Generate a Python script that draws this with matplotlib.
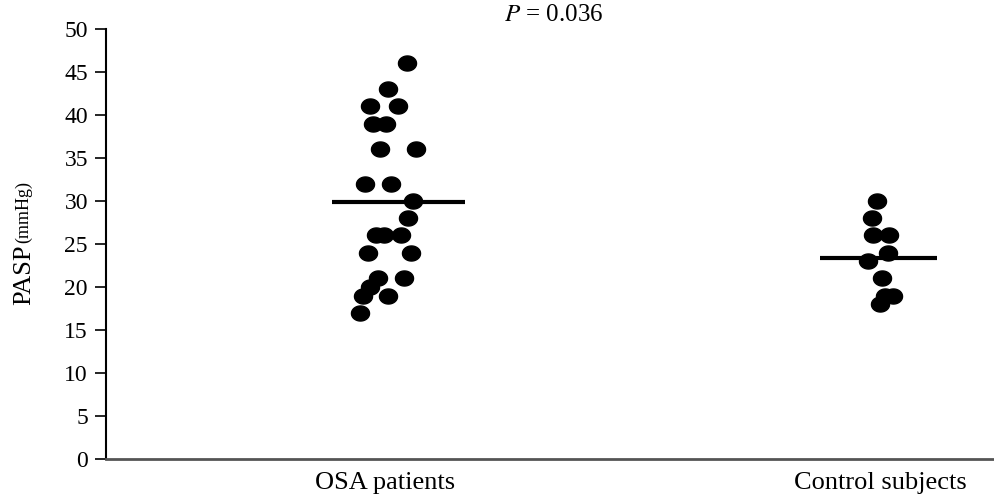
import matplotlib
matplotlib.use("Agg")
import matplotlib.pyplot as plt
from matplotlib.path import Path
import numpy as np

plt.rcParams['font.family'] = ['Liberation Serif', 'DejaVu Serif']
plt.rcParams['mathtext.fontset'] = 'stix'

categories = ["OSA patients", "Control subjects"]

osa_values = [46, 43, 41, 41, 39, 39, 36, 36, 32, 32, 30, 28, 26, 26, 26,
              24, 24, 21, 21, 20, 19, 19, 17]
osa_jitter = [0.044, 0.007, -0.030, 0.027, -0.025, 0.003, -0.010, 0.063,
              -0.040, 0.012, 0.057, 0.047, -0.018, -0.003, 0.032, -0.034,
              0.053, -0.014, 0.038, -0.030, -0.045, 0.007, -0.051]

ctrl_values = [30, 28, 26, 26, 24, 23, 21, 19, 19, 18]
ctrl_jitter = [-0.007, -0.017, -0.014, 0.019, 0.017, -0.024, 0.005, 0.026,
               0.010, -0.001]

mean_spans = [(-0.108, 0.162), (-0.121, 0.115)]
p_text = r"$P$ = 0.036"

# slightly wide dots, like in the source figure
t = np.linspace(0, 2 * np.pi, 60)
ellipse = Path(np.column_stack([0.6 * np.cos(t), 0.5 * np.sin(t)]), closed=True)

fig = plt.figure(figsize=(9.94, 4.94), dpi=100)
ax = fig.add_axes([106 / 994, 35 / 494, 1 - 106 / 994, 430 / 494])

groups = [(osa_values, osa_jitter), (ctrl_values, ctrl_jitter)]
for i, (vals, jit) in enumerate(groups):
    xpos = i + 1
    ax.plot([xpos + j for j in jit], vals, linestyle='none', marker=ellipse,
            markersize=13, color='black')
    lo, hi = mean_spans[i]
    ax.plot([xpos + lo, xpos + hi], [np.mean(vals)] * 2, color='black',
            linewidth=3, solid_capstyle='butt')

ax.set_xlim(0.4364, 2.2303)
ax.set_ylim(0, 50)
ax.set_yticks(range(0, 51, 5))
ax.set_xticks([1, 2])
ax.set_xticklabels(categories, fontsize=19)
ax.tick_params(axis='x', length=0, pad=9)
ax.tick_params(axis='y', labelsize=17, length=8, width=1.2, direction='out', pad=5)

for s in ['top', 'right']:
    ax.spines[s].set_visible(False)
ax.spines['left'].set_linewidth(1.5)
ax.spines['bottom'].set_color('#555555')
ax.spines['bottom'].set_linewidth(2)

fig.text(24 / 994, (494 - 305) / 494, "PASP", rotation=90, ha='center',
         va='bottom', fontsize=19)
fig.text(24 / 994, (494 - 243) / 494, "(mmHg)", rotation=90, ha='center',
         va='bottom', fontsize=13)
fig.text(554 / 994, 1 - 15 / 494, p_text, ha='center', va='center', fontsize=18)

fig.savefig("out.png", dpi=100)
